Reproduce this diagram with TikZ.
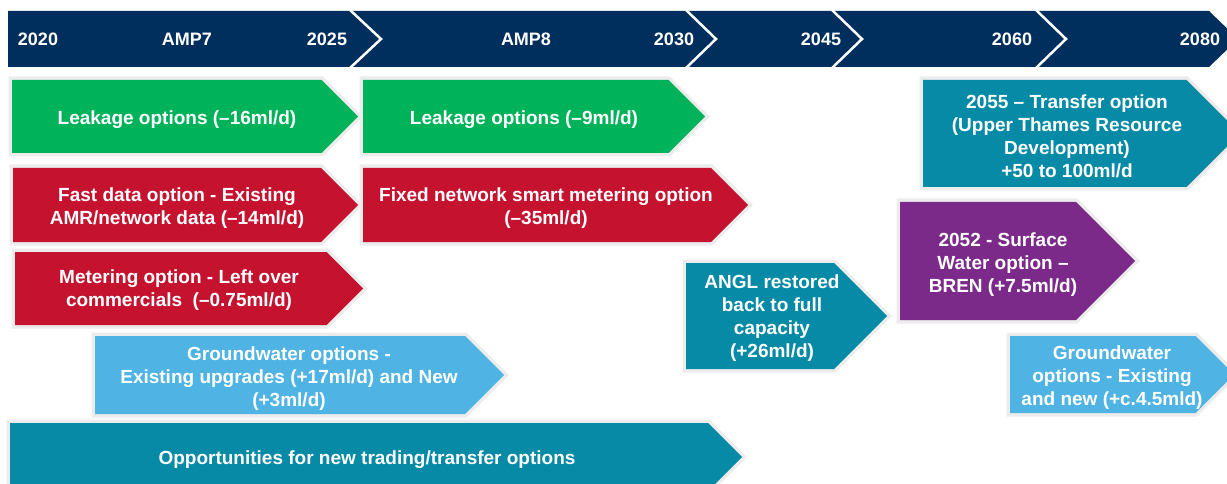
\documentclass[tikz,border=0pt]{standalone}
\usepackage{fontspec}
\setmainfont{Liberation Sans}
\definecolor{navy}{HTML}{002F5E}
\definecolor{optgreen}{HTML}{00B259}
\definecolor{optred}{HTML}{C4122F}
\definecolor{optteal}{HTML}{068AA5}
\definecolor{optpurple}{HTML}{7B2A8A}
\definecolor{optblue}{HTML}{4FB3E3}
\definecolor{glow}{HTML}{ECECEC}
% arrow-shaped option box: left x, top y, bottom y, tip x, fill colour
\newcommand\optarrow[5]{%
  \fill[preaction={draw=glow, line width=7pt, line join=miter}, #5]
    (#1,#2) -- ({#4-(#3-#2)/2},#2) -- (#4,{(#2+#3)/2})
    -- ({#4-(#3-#2)/2},#3) -- (#1,#3) -- cycle;}
\tikzset{
  lbl/.style={text=white, align=center, inner sep=0pt, yshift=-2.5pt,
    font=\bfseries\fontsize{19}{23}\selectfont},
  barlbl/.style={text=white, inner sep=0pt,
    font=\bfseries\fontsize{18}{20}\selectfont},
  sep/.style={draw=white, line width=2.5pt, line join=miter}
}
\begin{document}
\begin{tikzpicture}[x=1pt, y=-1pt]
\useasboundingbox (0,0) rectangle (1227,484);
\fill[white] (0,0) rectangle (1227,484);
\clip (0,0) rectangle (1227,484);

% timeline bar
\fill[navy] (8,11) -- (1209,11) -- (1238,39) -- (1209,67) -- (8,67) -- cycle;
\draw[sep] (350,10) -- (381,39) -- (350,68);
\draw[sep] (686,10) -- (716,39) -- (686,68);
\draw[sep] (832,10) -- (862,39) -- (832,68);
\draw[sep] (1036,10) -- (1066,39) -- (1036,68);
\node[barlbl] (y2020) at (38,39) {2020};
\node[barlbl] (amp7) at (187,39) {AMP7};
\node[barlbl] (y2025) at (327,39) {2025};
\node[barlbl] (amp8) at (526,39) {AMP8};
\node[barlbl] (y2030) at (674,39) {2030};
\node[barlbl] (y2045) at (821,39) {2045};
\node[barlbl] (y2060) at (1012,39) {2060};
\node[barlbl] (y2080) at (1200,39) {2080};

% option boxes
\optarrow{12}{80}{153}{358}{optgreen}
\optarrow{363}{80}{153}{705}{optgreen}
\optarrow{13}{168}{242}{358}{optred}
\optarrow{363}{168}{242}{748}{optred}
\optarrow{15}{252}{325}{363}{optred}
\optarrow{923}{80}{187}{1240}{optteal}
\optarrow{900}{202}{320}{1135}{optpurple}
\optarrow{686}{263}{369}{887}{optteal}
\optarrow{95}{336}{414}{504}{optblue}
\optarrow{1010}{336}{413}{1234}{optblue}
\optarrow{10}{423}{491}{742}{optteal}

% option labels
\node[lbl] (leak1) at (177,117) {Leakage options (–16ml/d)};
\node[lbl] (leak2) at (524,117) {Leakage options (–9ml/d)};
\node[lbl] (fast) at (177,206) {Fast data option - Existing\\AMR/network data (–14ml/d)};
\node[lbl] (fixed) at (546,206) {Fixed network smart metering option\\(–35ml/d)};
\node[lbl] (meter) at (179,288) {Metering option - Left over\\commercials~~(–0.75ml/d)};
\node[lbl] (transfer) at (1067,134) {2055 – Transfer option\\(Upper Thames Resource\\Development)\\+50 to 100ml/d};
\node[lbl] (bren) at (1003,262) {2052 - Surface\\Water option –\\BREN (+7.5ml/d)};
\node[lbl] (angl) at (772,316) {ANGL restored\\back to full\\capacity\\(+26ml/d)};
\node[lbl] (gw1) at (289,376) {Groundwater options -\\Existing upgrades (+17ml/d) and New\\(+3ml/d)};
\node[lbl] (gw2) at (1112,375) {Groundwater\\options - Existing\\and new (+c.4.5mld)};
\node[lbl] (trade) at (367,457) {Opportunities for new trading/transfer options};
\end{tikzpicture}
\end{document}
